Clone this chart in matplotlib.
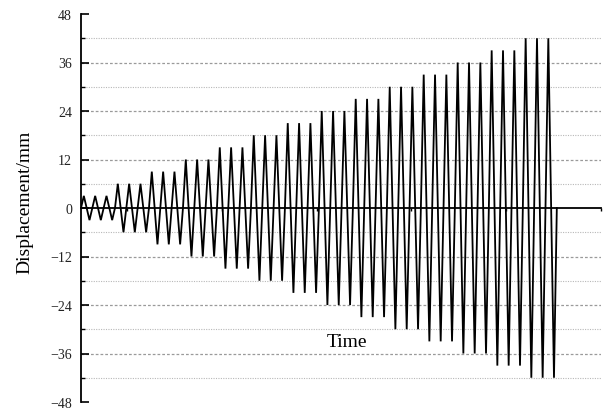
import matplotlib
matplotlib.use("Agg")
import matplotlib.pyplot as plt
import numpy as np

# amplitude levels (mm), each applied for 3 cycles
amplitudes = [3, 6, 9, 12, 15, 18, 21, 24, 27, 30, 33, 36, 39, 42]
cycles_per_level = [3, 3, 3, 3, 3, 3, 3, 3, 3, 3, 3, 3, 3, 3]

y_major = [-48, -36, -24, -12, 0, 12, 24, 36, 48]
y_minor = [-42, -30, -18, -6, 6, 18, 30, 42]
x_ticks = [4.06, 12.45, 20.8, 29.15, 37.5, 45.9]

# build the triangular waveform from the amplitude list
t, d = [0.0], [0.0]
k = 0
for a, n in zip(amplitudes, cycles_per_level):
    for _ in range(n):
        t += [k + 0.25, k + 0.75, k + 1.0]
        d += [a, -a, 0.0]
        k += 1

plt.rcParams['font.family'] = ['Liberation Serif', 'DejaVu Serif']

fig = plt.figure(figsize=(6.06, 4.10), dpi=100)
ax = fig.add_axes([81/606, 7/410, 520/606, 388/410])

ax.set_xlim(0, 45.9)
ax.set_ylim(-48, 48)

# grid
for yv in y_major:
    if abs(yv) in (0, 48):
        continue
    ax.axhline(yv, color='#9a9a9a', lw=0.9, ls=(0, (2.2, 1.6)), zorder=0)
for yv in y_minor:
    ax.axhline(yv, color='#b8b8b8', lw=0.8, ls=(0, (1, 1.2)), zorder=0)

ax.plot(t, d, color='black', lw=1.3, zorder=3, solid_joinstyle='miter')

ax.spines['top'].set_visible(False)
ax.spines['right'].set_visible(False)
ax.spines['bottom'].set_position(('data', 0))
ax.spines['left'].set_linewidth(1.3)
ax.spines['bottom'].set_linewidth(1.3)
ax.spines['bottom'].set_zorder(4)

ax.set_yticks(y_major)
ax.set_yticks(y_minor, minor=True)
ax.set_yticklabels([str(v).replace('-', '\u2212') for v in y_major])
ax.tick_params(axis='y', which='major', direction='in', length=5.5, width=1.2,
               labelsize=10, pad=6.5, labelcolor='#222222')
ax.tick_params(axis='y', which='minor', direction='in', length=3, width=1.0)

ax.set_xticks(x_ticks)
ax.set_xticklabels([])
ax.tick_params(axis='x', which='major', direction='out', length=2.5, width=1.0)

ax.set_ylabel('Displacement/mm', fontsize=14)
ax.yaxis.set_label_coords(-0.092, 0.518)
ax.text(23.5, -33, 'Time', fontsize=14, ha='center', va='center')

fig.savefig('out.png', dpi=100)
